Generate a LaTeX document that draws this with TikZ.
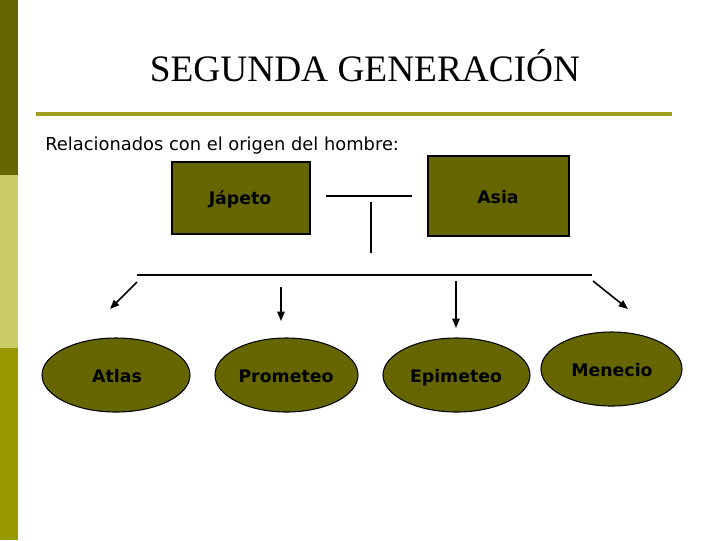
\documentclass[tikz,border=0pt]{standalone}
\usepackage{fontspec}
\setmainfont{Liberation Serif}
\newfontfamily\dv{DejaVu Sans}
\usetikzlibrary{arrows.meta,shapes.geometric}
\definecolor{olive1}{HTML}{666600}
\definecolor{olive2}{HTML}{CCCC66}
\definecolor{olive3}{HTML}{999900}
\definecolor{rulec}{HTML}{A0A020}
\begin{document}
\begin{tikzpicture}[x=0.75pt,y=-0.75pt,
  boxnode/.style={draw=black,line width=0.8pt,fill=olive1,inner sep=0pt},
  ellnode/.style={draw=black,line width=0.8pt,fill=olive1,ellipse,inner sep=0pt},
  lbl/.style={anchor=base,inner sep=0pt,font=\dv\bfseries\fontsize{13pt}{15pt}\selectfont},
  thinline/.style={line width=0.8pt,black},
  arr/.style={line width=1.2pt,black,-{Triangle[length=7pt,width=5.5pt]}}]
\useasboundingbox (0,0) rectangle (720,540);
\fill[white] (0,0) rectangle (720,540);
% side bar
\fill[olive1] (0,0) rectangle (18,175);
\fill[olive2] (0,175) rectangle (18,348);
\fill[olive3] (0,348) rectangle (18,540);
% title
\node[font=\fontsize{28pt}{32pt}\selectfont] (title) at (365,66) {SEGUNDA GENERACIÓN};
\coordinate (r1) at (36,114);
\coordinate (r2) at (672,114);
\draw[rulec,line width=2.4pt] (r1) -- (r2);
\node[anchor=base west,inner sep=0pt,font=\dv\fontsize{13.4pt}{15pt}\selectfont] (sub) at (45,150) {Relacionados con el origen del hombre:};
% boxes
\node[boxnode,minimum width=138*0.75pt,minimum height=72*0.75pt] (jap) at (241,198) {};
\node[lbl] (japl) at (240,204) {Jápeto};
\node[boxnode,minimum width=141*0.75pt,minimum height=80*0.75pt] (asia) at (498.5,196) {};
\node[lbl] (asial) at (498,203) {Asia};
% lines
\coordinate (h1) at (326,196);
\coordinate (h2) at (412,196);
\draw[thinline] (h1) -- (h2);
\coordinate (v1) at (371,202);
\coordinate (v2) at (371,253);
\draw[thinline] (v1) -- (v2);
\coordinate (l1) at (137,275);
\coordinate (l2) at (592,275);
\draw[thinline] (l1) -- (l2);
% arrows
\coordinate (a1s) at (137,282); \coordinate (a1e) at (110,309);
\coordinate (a2s) at (281,287); \coordinate (a2e) at (281,321);
\coordinate (a3s) at (456,281); \coordinate (a3e) at (456,328);
\coordinate (a4s) at (593,281); \coordinate (a4e) at (628,309);
\draw[arr] (a1s) -- (a1e);
\draw[arr] (a2s) -- (a2e);
\draw[arr] (a3s) -- (a3e);
\draw[arr] (a4s) -- (a4e);
% ellipses
\node[ellnode,minimum width=148*0.75pt,minimum height=74*0.75pt] (atlas) at (116,375) {};
\node[lbl] (atlasl) at (117,382) {Atlas};
\node[ellnode,minimum width=143*0.75pt,minimum height=74*0.75pt] (prom) at (286.5,375) {};
\node[lbl] (proml) at (286,382) {Prometeo};
\node[ellnode,minimum width=147*0.75pt,minimum height=74*0.75pt] (epi) at (456.5,375) {};
\node[lbl] (epil) at (456,382) {Epimeteo};
\node[ellnode,minimum width=141*0.75pt,minimum height=74*0.75pt] (men) at (611.5,369) {};
\node[lbl] (menl) at (612,376) {Menecio};
\end{tikzpicture}
\end{document}
